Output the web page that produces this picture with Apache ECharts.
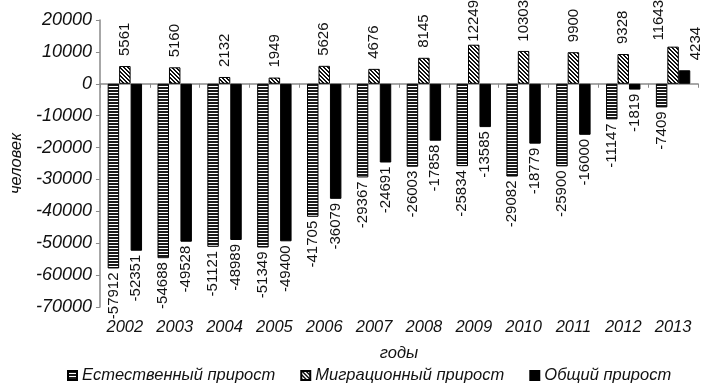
<!DOCTYPE html>
<html>
<head>
<meta charset="utf-8">
<script src="https://cdn.jsdelivr.net/npm/echarts@6/dist/echarts.min.js"></script>
<style>
html,body{margin:0;padding:0;background:#fff;}
#chart{width:712px;height:387px;}
</style>
</head>
<body>
<div id="chart"></div>
<script>
var years = ['2002','2003','2004','2005','2006','2007','2008','2009','2010','2011','2012','2013'];
var naturalGrowth = [-57912,-54688,-51121,-51349,-41705,-29367,-26003,-25834,-29082,-25900,-11147,-7409];
var migrationGrowth = [5561,5160,2132,1949,5626,4676,8145,12249,10303,9900,9328,11643];
var totalGrowth = [-52351,-49528,-48989,-49400,-36079,-24691,-17858,-13585,-18779,-16000,-1819,4234];
var seriesNames = ['Естественный прирост','Миграционный прирост','Общий прирост'];
var yTicks = {min:-70000, max:20000, interval:10000};

function makeStripes(){
  var c = document.createElement('canvas');
  c.width = 4; c.height = 3;
  var g = c.getContext('2d');
  g.fillStyle = '#ffffff'; g.fillRect(0,0,4,3);
  g.fillStyle = '#1a1a1a'; g.fillRect(0,0,4,2);
  return c;
}
function makeHatch(){
  var c = document.createElement('canvas');
  c.width = 4; c.height = 4;
  var g = c.getContext('2d');
  g.fillStyle = '#ffffff'; g.fillRect(0,0,4,4);
  g.fillStyle = '#111111';
  for (var i=0;i<4;i++){ g.fillRect(i,i,1,1); g.fillRect((i+1)%4,i,1,1); }
  return c;
}

var FONT = "'Liberation Sans', Arial, sans-serif";

function buildData(arr){
  return arr.map(function(v){
    var neg = v < 0;
    return {
      value: v,
      label: {
        position: neg ? 'bottom' : 'top',
        align: neg ? 'right' : 'left',
        verticalAlign: 'middle',
        distance: neg ? 4 : 10
      }
    };
  });
}

var labelCommon = {
  show: true,
  rotate: 90,
  fontSize: 15,
  fontFamily: FONT,
  color: '#111'
};

// keep labels inside the chart area (like the original), pushing them down when they run off the top;
// when two labels of one year both sit above the axis, spread them sideways
function keepInside(p){
  var r = p.labelRect, out = {};
  if (!r) return out;
  if (r.y < 0) { out.y = r.height; }
  var i = p.dataIndex;
  if (migrationGrowth[i] > 0 && totalGrowth[i] > 0) {
    var cx = r.x + r.width / 2;
    if (p.seriesIndex === 1) { out.x = cx - 14; }
    if (p.seriesIndex === 2) { out.x = cx + 11; }
  }
  return out;
}

var chart = echarts.init(document.getElementById('chart'), null, {renderer:'canvas'});
chart.setOption({
  animation: false,
  backgroundColor: '#ffffff',
  grid: {left: 90, right: 14, top: 20, bottom: 80},
  legend: {
    left: 62, top: 362,
    icon: 'rect',
    itemWidth: 9, itemHeight: 9, itemGap: 25,
    textStyle: {fontFamily: FONT, fontStyle: 'italic', fontSize: 16.5, color: '#111'},
    data: seriesNames
  },
  xAxis: [{
    type: 'category',
    data: years,
    position: 'bottom',
    axisLine: {show: false, onZero: false},
    axisTick: {show: false},
    axisLabel: {fontFamily: FONT, fontStyle: 'italic', fontSize: 16.5, color: '#111', margin: 12},
    name: 'годы',
    nameLocation: 'middle',
    nameGap: 38,
    nameTextStyle: {fontFamily: FONT, fontStyle: 'italic', fontSize: 16.5, color: '#111'}
  },{
    type: 'category',
    data: years,
    position: 'top',
    axisLine: {show: true, onZero: true, lineStyle: {color: '#8a8a8a', width: 1.5}},
    axisTick: {show: true, inside: true, length: 4, lineStyle: {color: '#8a8a8a'}},
    axisLabel: {show: false}
  }],
  yAxis: {
    type: 'value',
    min: yTicks.min, max: yTicks.max, interval: yTicks.interval,
    axisLine: {show: true, lineStyle: {color: '#8a8a8a', width: 1.5}},
    axisTick: {show: true, length: 4, lineStyle: {color: '#8a8a8a'}},
    splitLine: {show: false},
    axisLabel: {fontFamily: FONT, fontStyle: 'italic', fontSize: 18, color: '#111', margin: 8,
      formatter: function(v){ return String(v); }},
    name: 'человек',
    nameLocation: 'middle',
    nameGap: 66,
    nameTextStyle: {fontFamily: FONT, fontStyle: 'italic', fontSize: 16.5, color: '#111'}
  },
  series: [{
    name: seriesNames[0],
    type: 'bar',
    xAxisIndex: 0,
    barGap: '0%',
    barCategoryGap: '31%',
    itemStyle: {color: {image: makeStripes(), repeat: 'repeat'}, borderColor: '#000', borderWidth: 1},
    label: labelCommon,
    labelLayout: keepInside,
    data: buildData(naturalGrowth)
  },{
    name: seriesNames[1],
    type: 'bar',
    xAxisIndex: 0,
    itemStyle: {color: {image: makeHatch(), repeat: 'repeat'}, borderColor: '#000', borderWidth: 1},
    label: labelCommon,
    labelLayout: keepInside,
    data: buildData(migrationGrowth)
  },{
    name: seriesNames[2],
    type: 'bar',
    xAxisIndex: 0,
    itemStyle: {color: '#000', borderColor: '#000', borderWidth: 1},
    label: labelCommon,
    labelLayout: keepInside,
    data: buildData(totalGrowth)
  }]
});
</script>
</body>
</html>
